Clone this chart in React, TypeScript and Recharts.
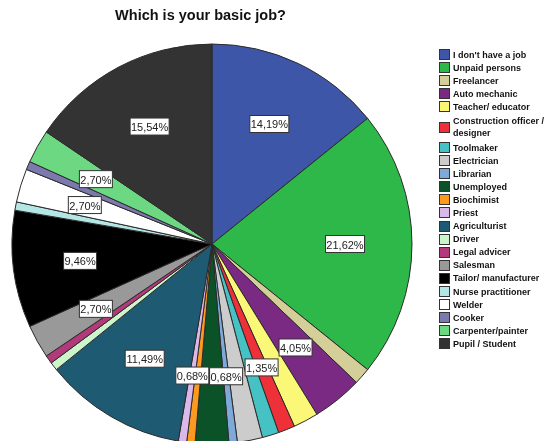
import { Cell, Pie, PieChart } from "recharts";

const jobs = [
  "I don't have a job",
  "Unpaid persons",
  "Freelancer",
  "Auto mechanic",
  "Teacher/ educator",
  "Construction officer / designer",
  "Toolmaker",
  "Electrician",
  "Librarian",
  "Unemployed",
  "Biochimist",
  "Priest",
  "Agriculturist",
  "Driver",
  "Legal advicer",
  "Salesman",
  "Tailor/ manufacturer",
  "Nurse practitioner",
  "Welder",
  "Cooker",
  "Carpenter/painter",
  "Pupil / Student",
];

const counts = [21, 32, 2, 6, 3, 2, 2, 3, 1, 4, 1, 1, 17, 1, 1, 4, 14, 1, 4, 1, 4, 23];

const palette = [
  "#3d56a8", "#2fb84a", "#d4cf98", "#7a2a82", "#fbf777", "#ee3139", "#47c2c4",
  "#cccccc", "#7ea9d9", "#0b5229", "#fc9a1f", "#dbb8ea", "#1e5b72", "#ccf5cc",
  "#b23a7a", "#999999", "#000000", "#b4e6e6", "#ffffff", "#7c7aac", "#6cd982",
  "#333333",
];

// only these slices get a value box in the original
const labelled = [
  "I don't have a job", "Unpaid persons", "Auto mechanic", "Construction officer / designer",
  "Librarian", "Priest", "Agriculturist", "Salesman", "Tailor/ manufacturer", "Welder",
  "Carpenter/painter", "Pupil / Student",
];

const data = jobs.map((name, i) => ({ name, value: counts[i] }));

const RAD = Math.PI / 180;

function ValueLabel(props: any) {
  const { cx, cy, midAngle, outerRadius, percent, name } = props;
  if (!labelled.includes(name)) return null;
  const r = outerRadius * 0.665;
  const x = cx + r * Math.cos(-midAngle * RAD);
  const y = cy + r * Math.sin(-midAngle * RAD);
  const text = (percent * 100).toFixed(2).replace(".", ",") + "%";
  const w = text.length * 6 + 3;
  return (
    <g>
      <rect x={x - w / 2} y={y - 8.5} width={w} height={17} fill="#fff" stroke="#333" strokeWidth={1} />
      <text x={x} y={y + 0.5} textAnchor="middle" dominantBaseline="central" fontSize={11}
        fontFamily="Liberation Sans, Arial, sans-serif" fill="#222">
        {text}
      </text>
    </g>
  );
}

function JobLegend() {
  return (
    <div style={{ position: "absolute", left: 431, top: 40, fontFamily: "Liberation Sans, Arial, sans-serif",
      fontSize: 9, fontWeight: 700, color: "#111", whiteSpace: "nowrap" }}>
      {jobs.map((name, i) => {
        const tall = name.length > 22;
        const cut = name.indexOf("/ ") + 1;
        return (
          <div key={name} style={{ display: "flex", alignItems: "center", height: tall ? 27.5 : 13.1 }}>
            <div style={{ width: 9, height: 9, background: palette[i], border: "1px solid #333", marginRight: 3, flexShrink: 0 }} />
            {tall ? (
              <div style={{ lineHeight: "12px" }}>
                <div>{name.slice(0, cut)}</div>
                <div>{name.slice(cut + 1)}</div>
              </div>
            ) : (
              <div style={{ lineHeight: "12px" }}>{name}</div>
            )}
          </div>
        );
      })}
    </div>
  );
}

export default function App() {
  return (
    <div style={{ position: "fixed", left: 8, top: 8, width: 541, height: 433, background: "#fff" }}>
      <div style={{ position: "absolute", left: 0, width: 385, top: -1, textAlign: "center",
        fontFamily: "Liberation Sans, Arial, sans-serif", fontWeight: 700, fontSize: 14.5, color: "#111" }}>
        Which is your basic job?
      </div>
      <PieChart width={541} height={433} margin={{ top: 0, right: 0, bottom: 0, left: 0 }}>
        <Pie
          data={data}
          dataKey="value"
          nameKey="name"
          cx={204}
          cy={236}
          outerRadius={200}
          startAngle={90}
          endAngle={-270}
          stroke="#2b2b2b"
          strokeWidth={1}
          label={ValueLabel}
          labelLine={false}
          isAnimationActive={false}
        >
          {data.map((d, i) => (
            <Cell key={d.name} fill={palette[i]} />
          ))}
        </Pie>
      </PieChart>
      <JobLegend />
    </div>
  );
}
